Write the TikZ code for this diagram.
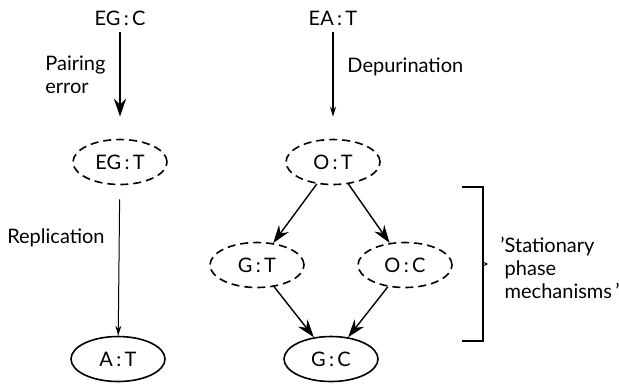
\documentclass[tikz,border=0pt]{standalone}
\usepackage{fontspec}
\setmainfont{Lato}
\usetikzlibrary{shapes,arrows.meta,positioning}
\tikzset{>=latex}
\tikzset{
  pair/.style={ellipse,draw,line width=0.8pt,minimum width=47pt,minimum height=22.5pt,inner sep=0pt},
  lost/.style={pair,dash pattern=on 4pt off 2.5pt},
  step arrow/.style={line width=0.9pt,-{Stealth[length=9pt,width=6pt]}},
  slow arrow/.style={line width=0.6pt,-{Stealth[length=5pt,width=3pt]}},
  lbl/.style={font=\fontsize{10}{11.5}\selectfont,align=left,inner sep=0pt}
}

\begin{document}
\begin{tikzpicture}[x=0.5pt,y=-0.5pt,font=\fontsize{10}{11.5}\selectfont]
    \useasboundingbox (0,0) rectangle (619,387);
    % left column
    \node (egc) at (120,18) {EG\,:\,C};
    \node[lost] (egt) at (120,162) {EG\,:\,T};
    \node[pair] (at) at (118,359) {A\,:\,T};
    \draw[step arrow,shorten >=11pt] (egc) -- (egt);
    \draw[slow arrow,line width=0.5pt,shorten <=7pt] (egt) -- (at);
    \node[lbl,anchor=west] (pairing) at (45,75) {Pairing\\error};
    \node[lbl,anchor=east] (replication) at (105,238) {Replication};
    % right column
    \node (eat) at (333,18) {EA\,:\,T};
    \node[lost] (ot) at (333,162) {O\,:\,T};
    \node[lost] (gt) at (257,265) {G\,:\,T};
    \node[lost] (oc) at (405,265) {O\,:\,C};
    \node[pair] (gc) at (331,359) {G\,:\,C};
    \draw[slow arrow,line width=1pt,shorten >=11pt] (eat) -- (ot);
    \node[lbl,anchor=west] (depurination) at (347,67) {Depurination};
    \draw[step arrow,line width=0.7pt] (ot) -- (gt);
    \draw[step arrow,line width=0.7pt] (ot) -- (oc);
    \draw[step arrow,line width=0.7pt] (gt) -- (gc);
    \draw[step arrow,line width=0.7pt] (oc) -- (gc);
    % bracket
    \draw[line width=0.6pt] (462,187) -- (483,187) -- (483,341) -- (462,341);
    \draw[line width=0.5pt] (483,262) -- (487,264) -- (483,266);
    \node[lbl,anchor=west] (stationary) at (500,268) {'Stationary\\\phantom{'}phase\\\phantom{'}mechanisms\,'};
\end{tikzpicture}
\end{document}
